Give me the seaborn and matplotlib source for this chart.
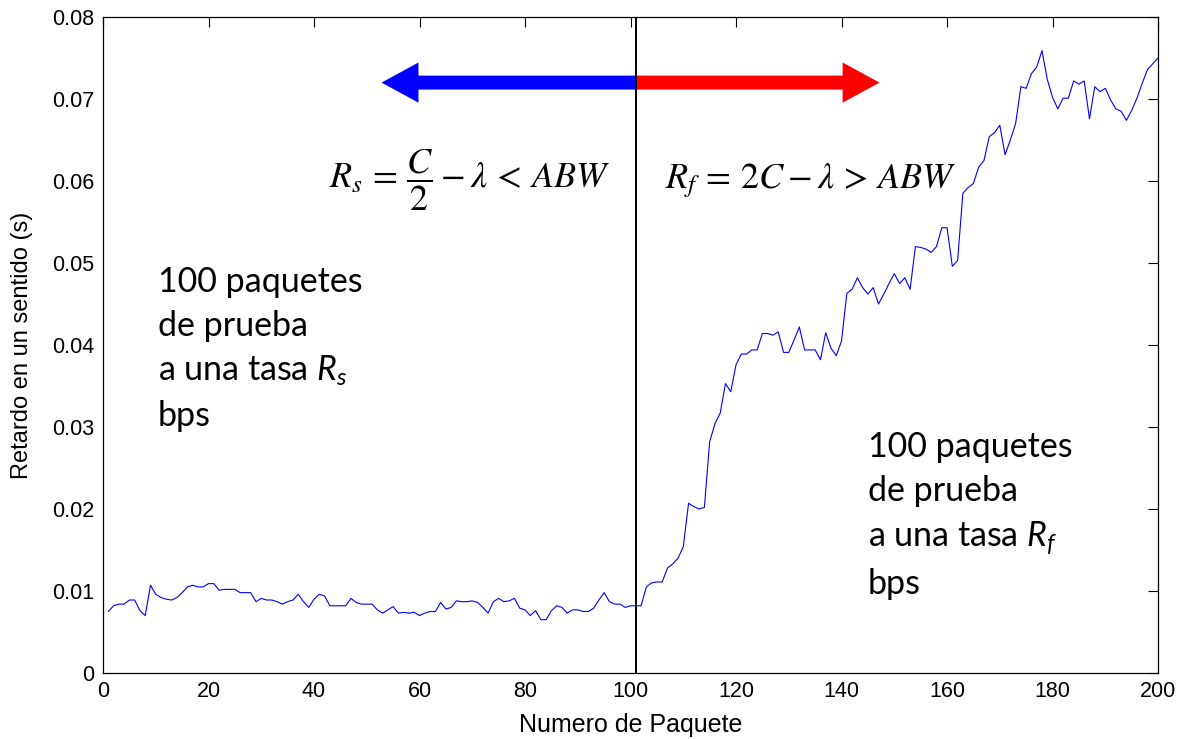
import numpy as np
import pandas as pd
import matplotlib
matplotlib.use("Agg")
import matplotlib.pyplot as plt
import seaborn as sns
from matplotlib.patches import FancyArrow

# ---------------- data ----------------
packet = list(range(1, 201))
delay = [
    0.0075, 0.0082, 0.0084, 0.0084, 0.0089, 0.0089, 0.0076, 0.0070, 0.0107, 0.0096,
    0.0092, 0.0090, 0.0089, 0.0092, 0.0098, 0.0105, 0.0107, 0.0105, 0.0105, 0.0109,
    0.0109, 0.0101, 0.0102, 0.0102, 0.0102, 0.0098, 0.0098, 0.0098, 0.0087, 0.0091,
    0.0089, 0.0089, 0.0087, 0.0084, 0.0087, 0.0089, 0.0096, 0.0087, 0.0080, 0.0090,
    0.0096, 0.0094, 0.0082, 0.0082, 0.0082, 0.0082, 0.0091, 0.0086, 0.0084, 0.0084,
    0.0084, 0.0077, 0.0073, 0.0077, 0.0081, 0.0073, 0.0074, 0.0073, 0.0074, 0.0070,
    0.0073, 0.0075, 0.0075, 0.0086, 0.0078, 0.0080, 0.0088, 0.0087, 0.0087, 0.0088,
    0.0086, 0.0080, 0.0073, 0.0087, 0.0091, 0.0087, 0.0088, 0.0091, 0.0079, 0.0077,
    0.0070, 0.0076, 0.0065, 0.0065, 0.0076, 0.0082, 0.0080, 0.0073, 0.0077, 0.0077,
    0.0075, 0.0075, 0.0079, 0.0089, 0.0098, 0.0087, 0.0084, 0.0084, 0.0080, 0.0082,
    0.0082, 0.0082, 0.0105, 0.0110, 0.0111, 0.0111, 0.0128, 0.0133, 0.0140, 0.0154,
    0.0207, 0.0203, 0.0200, 0.0202, 0.0282, 0.0304, 0.0317, 0.0353, 0.0343, 0.0376,
    0.0389, 0.0389, 0.0394, 0.0394, 0.0414, 0.0414, 0.0412, 0.0416, 0.0391, 0.0391,
    0.0406, 0.0422, 0.0394, 0.0394, 0.0394, 0.0382, 0.0415, 0.0396, 0.0387, 0.0405,
    0.0463, 0.0468, 0.0482, 0.0470, 0.0462, 0.0470, 0.0450, 0.0462, 0.0475, 0.0487,
    0.0475, 0.0482, 0.0468, 0.0520, 0.0519, 0.0517, 0.0513, 0.0520, 0.0543, 0.0543,
    0.0496, 0.0503, 0.0585, 0.0592, 0.0597, 0.0617, 0.0625, 0.0654, 0.0659, 0.0668,
    0.0632, 0.0650, 0.0670, 0.0715, 0.0713, 0.0731, 0.0739, 0.0759, 0.0724, 0.0702,
    0.0688, 0.0701, 0.0701, 0.0722, 0.0718, 0.0722, 0.0676, 0.0715, 0.0709, 0.0713,
    0.0699, 0.0688, 0.0685, 0.0674, 0.0686, 0.0701, 0.0719, 0.0736, 0.0743, 0.0750,
]
x_ticks = [0, 20, 40, 60, 80, 100, 120, 140, 160, 180, 200]
y_ticks = [0, 0.01, 0.02, 0.03, 0.04, 0.05, 0.06, 0.07, 0.08]
y_ticklabels = ["0", "0.01", "0.02", "0.03", "0.04", "0.05", "0.06", "0.07", "0.08"]
split_packet = 101
arrow_level = 0.0720
arrow_left_end = 52.8
arrow_right_end = 147.2

x_label = "Numero de Paquete"
y_label = "Retardo en un sentido (s)"
formula_left = r"$R_s \,=\, \dfrac{C}{2} - \lambda \,<\, ABW$"
formula_right = r"$R_f \,=\, 2C - \lambda \,>\, ABW$"
note_left = "100 paquetes\nde prueba\na una tasa $R_s$\nbps"
note_right = "100 paquetes\nde prueba\na una tasa $R_f$\nbps"

# ---------------- style ----------------
sns.set_style("white")
plt.rcParams["font.family"] = ["Liberation Sans", "DejaVu Sans"]
plt.rcParams["mathtext.fontset"] = "custom"
plt.rcParams["mathtext.rm"] = "Lato"
plt.rcParams["mathtext.it"] = "Lato:italic"
plt.rcParams["mathtext.bf"] = "Lato:bold"
plt.rcParams["text.color"] = "black"
plt.rcParams["axes.labelcolor"] = "black"

df = pd.DataFrame({"packet": packet, "delay": delay})

fig = plt.figure(figsize=(11.8, 7.39), dpi=100)
ax = fig.add_axes([0.0873, 0.0893, 0.8941, 0.8877])

sns.lineplot(data=df, x="packet", y="delay", color="#0000FF", linewidth=0.8, ax=ax)

ax.set_xlim(0, 200)
ax.set_ylim(0, 0.08)
ax.set_xticks(x_ticks)
ax.set_xticklabels([str(t) for t in x_ticks])
ax.set_yticks(y_ticks)
ax.set_yticklabels(y_ticklabels)
ax.tick_params(direction="in", length=7, width=0.8, top=True, right=True,
               labelsize=15.5, colors="black", pad=6)
ax.set_xlabel(x_label, fontsize=18, labelpad=8)
ax.set_ylabel(y_label, fontsize=17, labelpad=14)
for s in ax.spines.values():
    s.set_visible(True)
    s.set_color("black")
    s.set_linewidth(0.9)

# vertical split line
ax.axvline(split_packet, color="black", linewidth=1.4)

# arrows
ax.add_patch(FancyArrow(split_packet, arrow_level, arrow_left_end - split_packet, 0,
                        width=0.0017, head_width=0.0049, head_length=7.0,
                        length_includes_head=True, color="#0000FF", lw=0))
ax.add_patch(FancyArrow(split_packet, arrow_level, arrow_right_end - split_packet, 0,
                        width=0.0017, head_width=0.0049, head_length=7.0,
                        length_includes_head=True, color="#FF0000", lw=0))

# formulas
ax.text(469 / 1180, 1 - 188 / 739, formula_left, transform=fig.transFigure, fontsize=26,
        ha="center", va="baseline", math_fontfamily="stix")
ax.text(811 / 1180, 1 - 188 / 739, formula_right, transform=fig.transFigure, fontsize=26,
        ha="center", va="baseline", math_fontfamily="stix")

# notes
ax.text(158 / 1180, 1 - 266 / 739, note_left, transform=fig.transFigure,
        fontsize=24.5, ha="left", va="top", family="Lato", linespacing=1.45)
ax.text(868 / 1180, 1 - 431 / 739, note_right, transform=fig.transFigure,
        fontsize=24.5, ha="left", va="top", family="Lato", linespacing=1.45)

fig.savefig("out.png", dpi=100)
